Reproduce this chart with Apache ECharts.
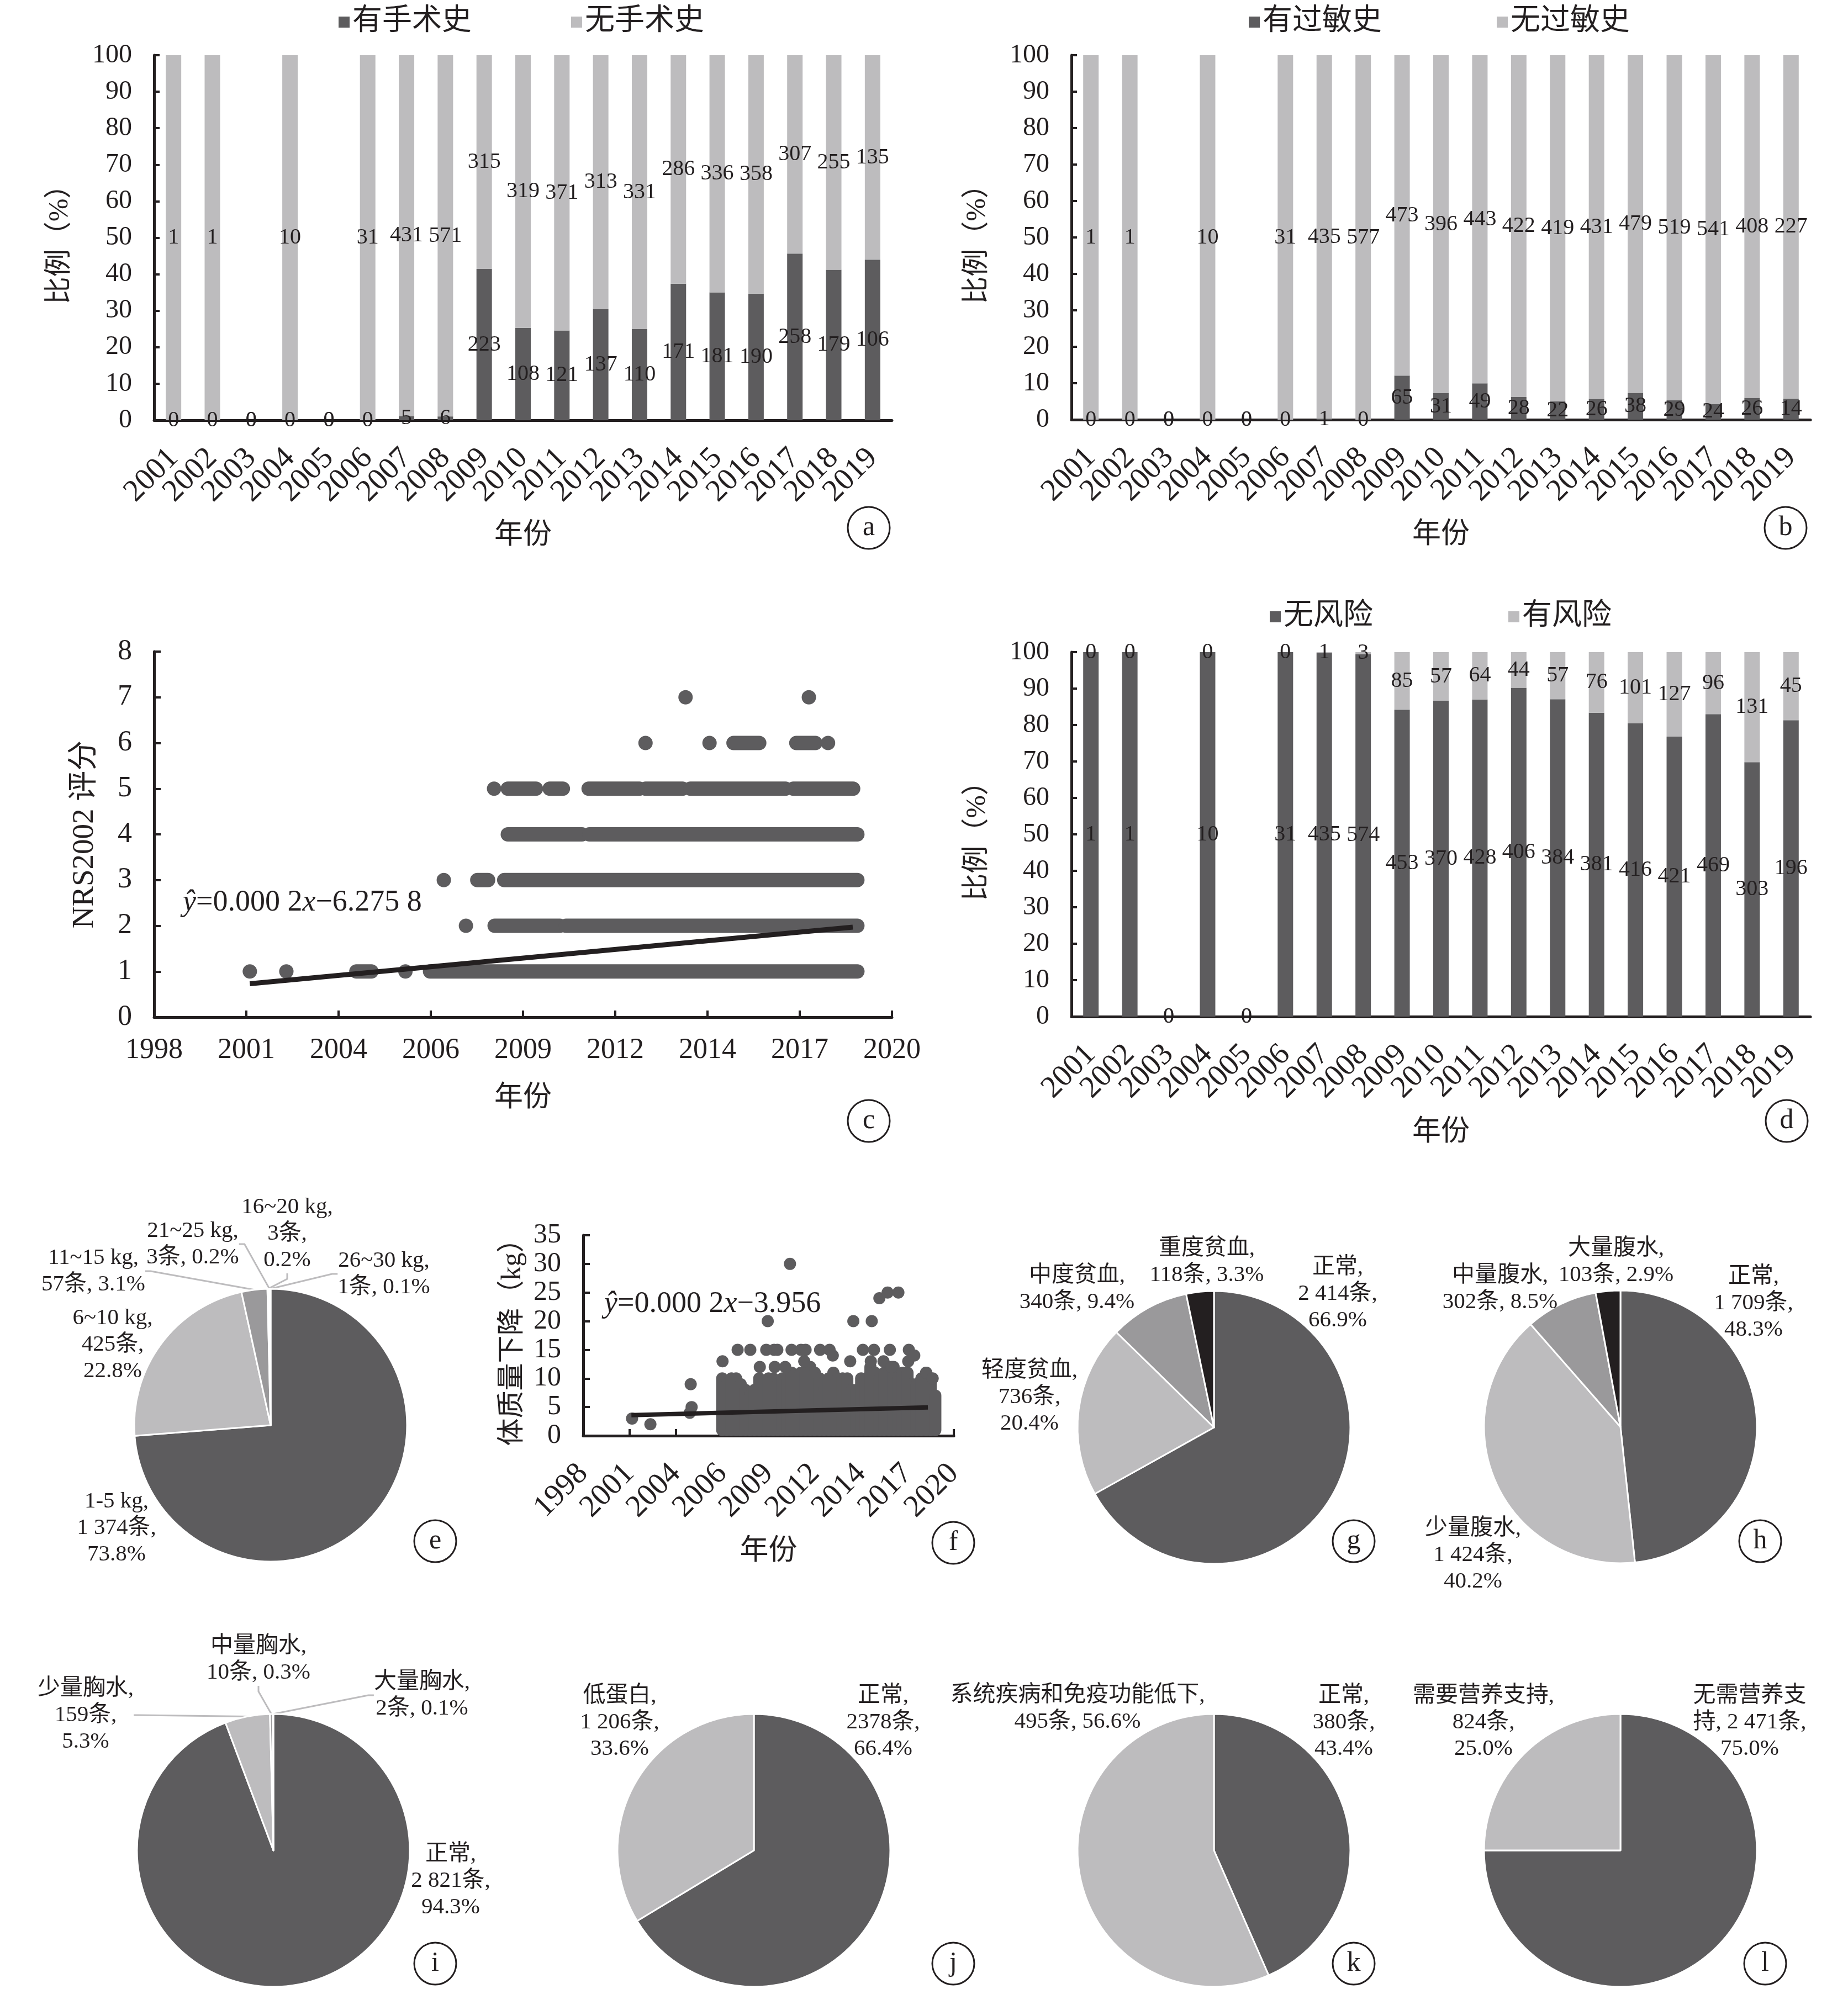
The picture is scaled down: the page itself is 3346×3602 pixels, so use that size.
<!DOCTYPE html>
<html><head><meta charset="utf-8">
<script src="https://cdn.jsdelivr.net/npm/echarts@6/dist/echarts.min.js"></script>
<style>html,body{margin:0;padding:0;background:#fff}#c{width:3346px;height:3602px}</style>
</head><body><div id="c"></div>
<script>
// ---------- DATA ----------
const years = ['2001','2002','2003','2004','2005','2006','2007','2008','2009','2010','2011','2012','2013','2014','2015','2016','2017','2018','2019'];
// a
const surgeryYes = [0,0,0,0,0,0,5,6,223,108,121,137,110,171,181,190,258,179,106];
const surgeryNo  = [1,1,0,10,0,31,431,571,315,319,371,313,331,286,336,358,307,255,135];
// b
const allergyYes = [0,0,0,0,0,0,1,0,65,31,49,28,22,26,38,29,24,26,14];
const allergyNo  = [1,1,0,10,0,31,435,577,473,396,443,422,419,431,479,519,541,408,227];
// d
const riskNo  = [1,1,0,10,0,31,435,574,453,370,428,406,384,381,416,421,469,303,196];
const riskYes = [0,0,0,0,0,0,1,3,85,57,64,44,57,76,101,127,96,131,45];
// date axis (Excel serial days) tick labels for 36000..44000
const dateTicks = [36000,37000,38000,39000,40000,41000,42000,43000,44000];
const dateTickLabels = ['1998','2001','2004','2006','2009','2012','2014','2017','2020'];
// c: NRS2002 score, isolated dots [date, score]
const nrsDots = [[37038,1],[37434,1],[38725,1],[39381,2],[39141,3],[39686,5],[41328,6],[42022,6],[43307,6],[41762,7],[43099,7]];
// c: runs of overlapping dots [dateStart, dateEnd, score]
const nrsRuns = [
  [38193,38356,1],[38992,43625,1],
  [39692,40400,2],[40465,43625,2],
  [39504,39621,3],[39796,43625,3],
  [39835,40640,4],[40718,43625,4],
  [39835,40140,5],[40289,40432,5],[40711,41263,5],[41328,41730,5],[41814,42846,5],[42930,43579,5],
  [42282,42561,6],[42963,43170,6]
];
const nrsTrend = [[37038,0.73],[43575,1.97]];
// f: weight loss, isolated dots [date, kg]
const weightDots = [[37054,3],[37450,2],[38300,4],[38320,9],[38340,5],
  [39007,13],[39333,15],[39607,15],[39812,12],[39983,20],[39950,15],[40120,15],[40190,15],[40134,12],[40360,12],
  [40463,30],[40497,15],[40700,15],[40800,15],[40771,13],[41113,15],[41318,15],[41387,14],[41763,13],[41831,20],
  [42037,15],[42228,20],[42208,13],[42276,15],[42393,24],[42482,13],[42571,25],[42619,15],[42653,12],[42803,25],
  [43029,15],[43016,13],[43146,14],[43406,11],[43543,10]];
// f: dense columns of dots [date, lowest kg, highest kg]
const weightColumns = [
  [39000,1,10],[39100,1,9],[39200,1,10],[39300,1,10],[39400,1,9],[39500,1,8],[39600,1,7],[39700,1,8],
  [39800,1,10],[39900,1,8],[40000,1,10],[40100,1,10],[40200,1,9],[40300,1,10],[40400,1,10],[40500,1,11],
  [40600,1,10],[40700,1,11],[40800,1,11],[40900,1,12],[41000,1,11],[41100,1,10],[41200,1,8],[41300,1,10],
  [41400,1,11],[41500,1,10],[41600,1,10],[41700,1,10],[41800,1,8],[41900,1,8],[42000,1,10],[42100,1,10],
  [42200,1,12],[42300,1,11],[42400,1,10],[42500,1,11],[42600,1,11],[42700,1,12],[42800,1,10],[42900,1,11],
  [43000,1,11],[43100,1,9],[43200,1,9],[43300,1,10],[43400,1,11],[43500,1,10],[43600,1,7]];
const weightTrend = [[37040,3.6],[43440,4.95]];
// pies
const eNames = ['1-5 kg','6~10 kg','11~15 kg','16~20 kg','21~25 kg','26~30 kg'];
const eCounts = [1374,425,57,3,3,1];
const eLabels = ['1-5 kg,\n1 374条,\n73.8%','6~10 kg,\n425条,\n22.8%','11~15 kg,\n57条, 3.1%','16~20 kg,\n3条,\n0.2%','21~25 kg,\n3条, 0.2%','26~30 kg,\n1条, 0.1%'];
const gNames = ['正常','轻度贫血','中度贫血','重度贫血'];
const gCounts = [2414,736,340,118];
const gLabels = ['正常,\n2 414条,\n66.9%','轻度贫血,\n736条,\n20.4%','中度贫血,\n340条, 9.4%','重度贫血,\n118条, 3.3%'];
const hNames = ['正常','少量腹水','中量腹水','大量腹水'];
const hCounts = [1709,1424,302,103];
const hLabels = ['正常,\n1 709条,\n48.3%','少量腹水,\n1 424条,\n40.2%','中量腹水,\n302条, 8.5%','大量腹水,\n103条, 2.9%'];
const iNames = ['正常','少量胸水','中量胸水','大量胸水'];
const iCounts = [2821,159,10,2];
const iLabels = ['正常,\n2 821条,\n94.3%','少量胸水,\n159条,\n5.3%','中量胸水,\n10条, 0.3%','大量胸水,\n2条, 0.1%'];
const jNames = ['正常','低蛋白'];
const jCounts = [2378,1206];
const jLabels = ['正常,\n2378条,\n66.4%','低蛋白,\n1 206条,\n33.6%'];
const kNames = ['正常','系统疾病和免疫功能低下'];
const kCounts = [380,495];
const kLabels = ['正常,\n380条,\n43.4%','系统疾病和免疫功能低下,\n495条, 56.6%'];
const lNames = ['无需营养支持','需要营养支持'];
const lCounts = [2471,824];
const lLabels = ['无需营养支\n持, 2 471条,\n75.0%','需要营养支持,\n824条,\n25.0%'];

// ---------- STYLE ----------
const FONT = '"Liberation Serif", "Noto Sans CJK SC", serif';
const INK = '#231f20', DARK = '#5d5c5e', LIGHT = '#bdbcbe', MID = '#9a999b', BLACK = '#231f20';

const grids = [
  {left:279, top:100, width:1336, height:661},   // a
  {left:1940, top:100, width:1338, height:660},  // b
  {left:279, top:1180, width:1336, height:662},  // c
  {left:1940, top:1181, width:1338, height:660}, // d
  {left:1056, top:2237, width:671, height:363}   // f
];

function catAxis(g, nameGap){
  return {type:'category', gridIndex:g, data:years,
    axisLine:{lineStyle:{color:INK,width:5}}, axisTick:{show:false},
    axisLabel:{rotate:45, interval:0, margin:60, fontSize:56, color:INK, fontFamily:FONT},
    name:'年份', nameLocation:'middle', nameGap:nameGap, nameTextStyle:{fontSize:52, color:INK, fontFamily:FONT}};
}
function pctAxis(g){
  return {type:'value', gridIndex:g, min:0, max:100, interval:10,
    axisLine:{show:true, lineStyle:{color:INK,width:5}},
    axisTick:{show:true, inside:true, length:10, lineStyle:{color:INK,width:4}},
    splitLine:{show:false},
    axisLabel:{margin:40, fontSize:48, color:INK, fontFamily:FONT},
    name:'比例（%）', nameLocation:'middle', nameGap:145, nameTextStyle:{fontSize:50, color:INK, fontFamily:FONT}};
}
function dateAxis(g, rotate, fs, margin, nameGap){
  return {type:'value', gridIndex:g, min:36000, max:44000, interval:1000,
    axisLine:{show:true, lineStyle:{color:INK,width:5}},
    axisTick:{show:true, inside:true, length:12, lineStyle:{color:INK,width:4}},
    splitLine:{show:false},
    axisLabel:{rotate:rotate, margin:margin, fontSize:fs, color:INK, fontFamily:FONT,
      formatter:v => dateTickLabels[dateTicks.indexOf(Math.round(v))] || ''},
    name:'年份', nameLocation:'middle', nameGap:nameGap, nameTextStyle:{fontSize:52, color:INK, fontFamily:FONT}};
}
function numAxis(g, max, interval, name, nameGap, fs, nfs){
  return {type:'value', gridIndex:g, min:0, max:max, interval:interval,
    axisLine:{show:true, lineStyle:{color:INK,width:5}},
    axisTick:{show:true, inside:true, length:12, lineStyle:{color:INK,width:4}},
    splitLine:{show:false},
    axisLabel:{margin:40, fontSize:fs, color:INK, fontFamily:FONT},
    name:name, nameLocation:'middle', nameGap:nameGap, nameTextStyle:{fontSize:nfs, color:INK, fontFamily:FONT}};
}
function stackedBars(g, names, bottom, top){
  const totals = bottom.map((v,i)=>v+top[i]);
  const pct = arr => arr.map((v,i)=> totals[i] ? v/totals[i]*100 : 0);
  return [bottom, top].map((arr,k)=>({
    type:'bar', name:names[k], xAxisIndex:g, yAxisIndex:g, stack:'s'+g, barWidth:28,
    data:pct(arr), itemStyle:{color:[DARK,LIGHT][k]},
    label:{show:true, position:'inside', formatter:p=>String(arr[p.dataIndex]), fontSize:40, color:INK, fontFamily:FONT}
  }));
}
function runRenderer(width){
  return function(params, api){
    const p0 = api.coord([api.value(0), api.value(2)]);
    const p1 = api.coord([api.value(1), api.value(2)]);
    return {type:'line', shape:{x1:p0[0],y1:p0[1],x2:p1[0],y2:p1[1]}, style:{stroke:DARK, lineWidth:width, lineCap:'round'}};
  };
}
function colRenderer(width){
  return function(params, api){
    const p0 = api.coord([api.value(0), api.value(1)]);
    const p1 = api.coord([api.value(0), api.value(2)]);
    return {type:'line', shape:{x1:p0[0],y1:p0[1],x2:p1[0],y2:p1[1]}, style:{stroke:DARK, lineWidth:width, lineCap:'round'}};
  };
}
function pie(center, names, counts, labels, colors, offsets, lines){
  return {type:'pie', center:center, radius:247, startAngle:90, clockwise:true, avoidLabelOverlap:false, silent:true,
    data:names.map((n,i)=>({name:n, value:counts[i], itemStyle:{color:colors[i]}, labelLine:{show:!!lines[i]}})),
    itemStyle:{borderColor:'#fff', borderWidth:3},
    label:{show:true, position:'outside', formatter:p=>labels[p.dataIndex], fontSize:41, lineHeight:48, color:INK, fontFamily:FONT},
    labelLine:{show:false, length:10, length2:10, lineStyle:{color:LIGHT, width:3}},
    labelLayout:p=>({x:center[0]+offsets[p.dataIndex][0], y:center[1]+offsets[p.dataIndex][1], align:'center', verticalAlign:'middle'})
  };
}
const legendBase = {itemWidth:20, itemHeight:20, icon:'rect', selectedMode:false, textStyle:{fontSize:54, color:INK, fontFamily:FONT}};

function circleLabel(cx, cy, t){
  return [
    {type:'circle', shape:{cx:cx, cy:cy, r:38}, style:{fill:'none', stroke:INK, lineWidth:3}},
    {type:'text', x:cx, y:cy, style:{text:t, fill:INK, font:'50px "Liberation Serif"', align:'center', verticalAlign:'middle'}}
  ];
}
function equation(x, y, t){
  return {type:'text', x:x, y:y, style:{text:t, fill:INK, font:'54px "Liberation Serif"', verticalAlign:'middle',
    rich:{i:{fontStyle:'italic', fontSize:54, fontFamily:'Liberation Serif', fill:INK}}}};
}

const option = {
  animation:false,
  textStyle:{fontFamily:FONT},
  grid:grids,
  legend:[
    Object.assign({data:['有手术史','无手术史'], left:608, top:8, itemGap:180}, legendBase),
    Object.assign({data:['有过敏史','无过敏史'], left:2256, top:8, itemGap:208}, legendBase),
    Object.assign({data:['无风险','有风险'], left:2294, top:1085, itemGap:245}, legendBase)
  ],
  xAxis:[catAxis(0, 183), catAxis(1, 183), dateAxis(2, 0, 52, 34, 121), catAxis(3, 184), dateAxis(4, 45, 56, 60, 184)],
  yAxis:[pctAxis(0), pctAxis(1), numAxis(2, 8, 1, 'NRS2002 评分', 98, 52, 55), pctAxis(3), numAxis(4, 35, 5, '体质量下降（kg）', 102, 50, 50)],
  series:[].concat(
    stackedBars(0, ['有手术史','无手术史'], surgeryYes, surgeryNo),
    stackedBars(1, ['有过敏史','无过敏史'], allergyYes, allergyNo),
    stackedBars(3, ['无风险','有风险'], riskNo, riskYes),
    [
      {type:'custom', xAxisIndex:2, yAxisIndex:2, renderItem:runRenderer(26), data:nrsRuns, encode:{x:[0,1], y:2}, silent:true},
      {type:'scatter', xAxisIndex:2, yAxisIndex:2, symbolSize:26, itemStyle:{color:DARK, opacity:1}, data:nrsDots, silent:true},
      {type:'line', xAxisIndex:2, yAxisIndex:2, data:nrsTrend, symbol:'none', lineStyle:{color:INK, width:9}, z:5, silent:true},
      {type:'custom', xAxisIndex:4, yAxisIndex:4, renderItem:colRenderer(22), data:weightColumns, encode:{x:0, y:[1,2]}, silent:true},
      {type:'scatter', xAxisIndex:4, yAxisIndex:4, symbolSize:22, itemStyle:{color:DARK, opacity:1}, data:weightDots, silent:true},
      {type:'line', xAxisIndex:4, yAxisIndex:4, data:weightTrend, symbol:'none', lineStyle:{color:INK, width:8}, z:5, silent:true},
      pie([490,2581], eNames, eCounts, eLabels, [DARK, LIGHT, MID, BLACK, '#7f7e80', '#d9d9d9'],
          [[-279,186],[-286,-146],[-321,-279],[30,-347],[-141,-328],[205,-274]], [0,0,1,1,1,1]),
      pie([2198,2585], gNames, gCounts, gLabels, [DARK, LIGHT, MID, BLACK],
          [[224,-242],[-334,-55],[-248,-251],[-13,-300]], [0,0,0,0]),
      pie([2934,2584], hNames, hCounts, hLabels, [DARK, LIGHT, MID, BLACK],
          [[241,-224],[-267,232],[-218,-250],[-8,-299]], [0,0,0,0]),
      pie([495,3351], iNames, iCounts, iLabels, [DARK, LIGHT, MID, BLACK],
          [[321,55],[-340,-245],[-27,-346],[269,-281]], [0,1,1,1]),
      pie([1365,3351], jNames, jCounts, jLabels, [DARK, LIGHT],
          [[234,-232],[-243,-232]], [0,0]),
      pie([2198,3351], kNames, kCounts, kLabels, [DARK, LIGHT],
          [[235,-232],[-247,-257]], [0,0]),
      pie([2934,3351], lNames, lCounts, lLabels, [DARK, LIGHT],
          [[234,-232],[-248,-232]], [0,0])
    ]
  ),
  graphic:[].concat(
    [equation(331, 1635, '{i|ŷ}=0.000 2{i|x}−6.275 8'), equation(1094, 2362, '{i|ŷ}=0.000 2{i|x}−3.956')],
    circleLabel(1573, 956, 'a'), circleLabel(3233, 956, 'b'),
    circleLabel(1573, 2030, 'c'), circleLabel(3235, 2030, 'd'),
    circleLabel(788, 2791, 'e'), circleLabel(1726, 2794, 'f'),
    circleLabel(2451, 2791, 'g'), circleLabel(3187, 2791, 'h'),
    circleLabel(788, 3556, 'i'), circleLabel(1726, 3556, 'j'),
    circleLabel(2451, 3556, 'k'), circleLabel(3196, 3556, 'l')
  )
};
const chart = echarts.init(document.getElementById('c'), null, {renderer:'canvas', devicePixelRatio:1});
chart.setOption(option);
</script>
</body></html>
